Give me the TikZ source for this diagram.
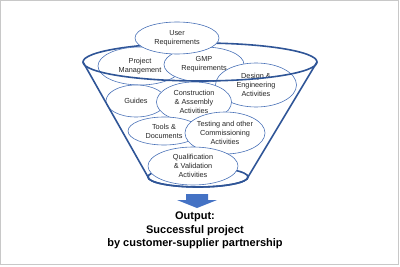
\documentclass[tikz,border=0pt]{standalone}
\usepackage{fontspec}
\setmainfont{Liberation Sans}
\usetikzlibrary{shapes.geometric}
\definecolor{funnelblue}{HTML}{2F5597}
\definecolor{ellblue}{HTML}{4A72B8}
\definecolor{arrowblue}{HTML}{4472C4}
\definecolor{framegray}{HTML}{C8C8C8}
\tikzset{
  bubble/.style={ellipse, draw=ellblue, line width=0.6pt, fill=white, inner sep=0pt,
    align=center, text=black!85, font=\fontsize{7.3}{9}\selectfont},
  funnelline/.style={draw=funnelblue, line width=1.6pt},
  outtext/.style={align=center, font=\fontsize{11}{13.5}\selectfont\bfseries, text=black}
}
\begin{document}
\begin{tikzpicture}[x=1pt,y=1pt]
\useasboundingbox (0,0) rectangle (400,266);
\draw[framegray, line width=1pt] (0.6,1.7) rectangle (398.4,265.4);
% funnel geometry
\coordinate (rimc) at (200,204);
\coordinate (rimL) at (83,204);
\coordinate (rimR) at (317,204);
\coordinate (botc) at (198,89);
\coordinate (botL) at (148,89);
\coordinate (botR) at (248,89);
% back half of rim and full bottom ellipse
\draw[funnelline] (rimL) arc[start angle=180, end angle=0, x radius=117pt, y radius=19pt];
\draw[funnelline] (botc) ellipse[x radius=50pt, y radius=10pt];
% bubbles
\node[bubble, minimum width=84pt, minimum height=38pt] (pm) at (140,200) {Project\\Management};
\node[bubble, minimum width=80pt, minimum height=35pt] (gmp) at (204,201.5) {GMP\\Requirements};
\node[bubble, minimum width=84pt, minimum height=32pt] (ur) at (177,228) {User\\Requirements};
\node[bubble, minimum width=81pt, minimum height=44pt] (de) at (256,181) {Design \&\\Engineering\\Activities};
\node[bubble, minimum width=60pt, minimum height=32pt] (gu) at (136,165) {Guides};
\node[bubble, minimum width=75pt, minimum height=40pt] (ca) at (194,164) {Construction\\\& Assembly\\Activities};
\node[bubble, minimum width=72pt, minimum height=28pt] (td) at (164,135) {Tools \&\\Documents};
\node[bubble, minimum width=80pt, minimum height=42pt] (tc) at (225,133) {Testing and other\\Commissioning\\Activities};
\node[bubble, minimum width=90pt, minimum height=38pt] (qv) at (193,100) {Qualification\\\& Validation\\Activities};
% front half of rim, sides, bottom front arc
\draw[funnelline] (rimL) arc[start angle=180, end angle=360, x radius=117pt, y radius=19pt];
\draw[funnelline] (rimL) -- (botL);
\draw[funnelline] (rimR) -- (botR);
\draw[funnelline] (botL) arc[start angle=180, end angle=360, x radius=50pt, y radius=10pt];
% output arrow
\coordinate (atop) at (197,72);
\coordinate (atip) at (197,58);
\fill[arrowblue] (186,72) -- (208,72) -- (208,66) -- (217,66) -- (atip) -- (177,66) -- (186,66) -- cycle;
\node[outtext] (out) at (195,35.5) {Output:\\Successful project\\by customer-supplier partnership};
\end{tikzpicture}
\end{document}
